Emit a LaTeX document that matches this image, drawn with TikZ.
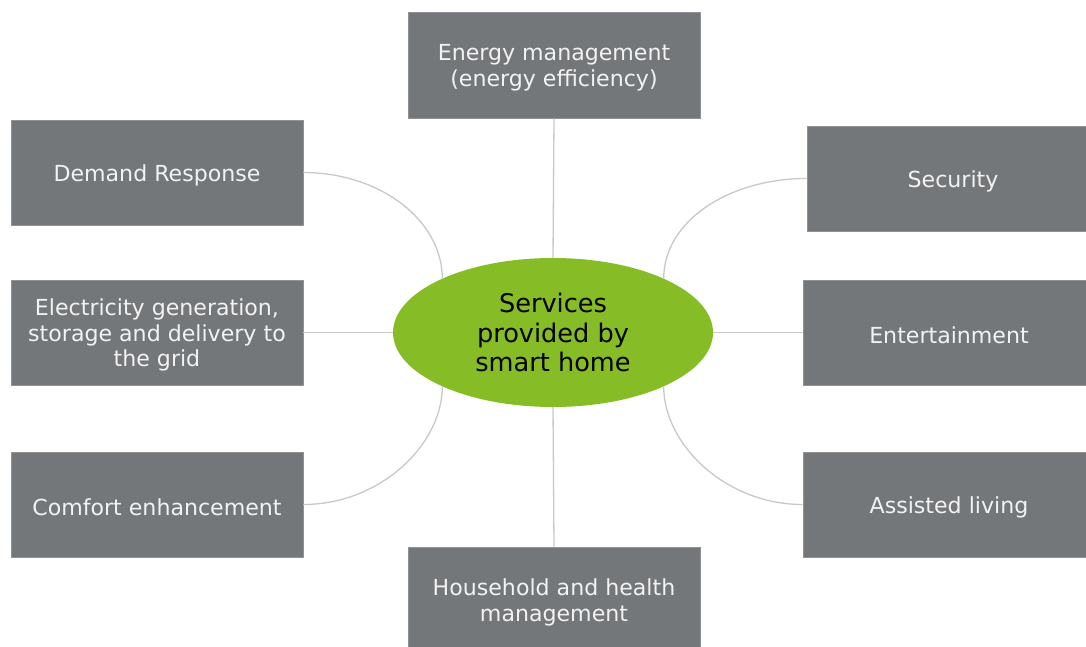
\documentclass[tikz,border=0pt]{standalone}
\usepackage{fontspec}
\setmainfont{DejaVu Sans}
\usetikzlibrary{shapes.geometric}
\definecolor{boxgray}{HTML}{74777A}
\definecolor{boxtext}{HTML}{F2F2F2}
\definecolor{hubgreen}{HTML}{86BC25}
\definecolor{linkgray}{HTML}{C8C8C8}
\tikzset{
  svcbox/.style={rectangle, fill=boxgray, draw=boxgray!80!white, line width=0.6pt,
    minimum width=292pt, minimum height=105pt, inner sep=0pt},
  svctext/.style={inner sep=0pt, text=boxtext, align=center,
    font=\fontsize{22.1}{25.8}\selectfont, yshift=-2.5pt},
  hub/.style={ellipse, fill=hubgreen, minimum width=320pt, minimum height=149pt,
    inner sep=0pt, text=black, align=center, font=\fontsize{25.6}{29.5}\selectfont},
  link/.style={draw=linkgray, line width=1.3pt}
}
\begin{document}
\begin{tikzpicture}[x=1pt,y=1pt]
\useasboundingbox (0,0) rectangle (1086,-647);
\clip (0,0) rectangle (1086,-647);
\node[hub] (c) at (553,-332.5) {Services\\provided by\\smart home};
\node[svcbox, minimum height=106pt] (energy) at (554,-65) {};
\node[svcbox] (demand) at (157,-172.5) {};
\node[svcbox] (elec) at (157,-332.5) {};
\node[svcbox] (comfort) at (157,-504.5) {};
\node[svcbox, minimum height=106pt] (house) at (554,-600) {};
\node[svcbox] (security) at (953,-178.5) {};
\node[svcbox] (enter) at (949,-332.5) {};
\node[svcbox] (assist) at (949,-504.5) {};
\node[svctext] (energyT) at (energy.center) {Energy management\\(energy efficiency)};
\node[svctext] (demandT) at (demand.center) {Demand Response};
\node[svctext] (elecT) at (elec.center) {Electricity generation,\\storage and delivery to\\the grid};
\node[svctext] (comfortT) at (comfort.center) {Comfort enhancement};
\node[svctext] (houseT) at (house.center) {Household and health\\management};
\node[svctext] (securityT) at (security.center) {Security};
\node[svctext] (enterT) at (enter.center) {Entertainment};
\node[svctext] (assistT) at (assist.center) {Assisted living};
\path[link] (energy.south) -- (c.north);
\path[link] (house.north) -- (c.south);
\path[link] (elec.east) -- (c.west);
\path[link] (enter.west) -- (c.east);
\path[link] (demand.east) .. controls +(77,0) and +(0,58) .. (c.154);
\path[link] (security.west) .. controls +(-77,0) and +(0,58) .. (c.26);
\path[link] (comfort.east) .. controls +(77,0) and +(0,-58) .. (c.206);
\path[link] (assist.west) .. controls +(-77,0) and +(0,-58) .. (c.-26);
\end{tikzpicture}
\end{document}
